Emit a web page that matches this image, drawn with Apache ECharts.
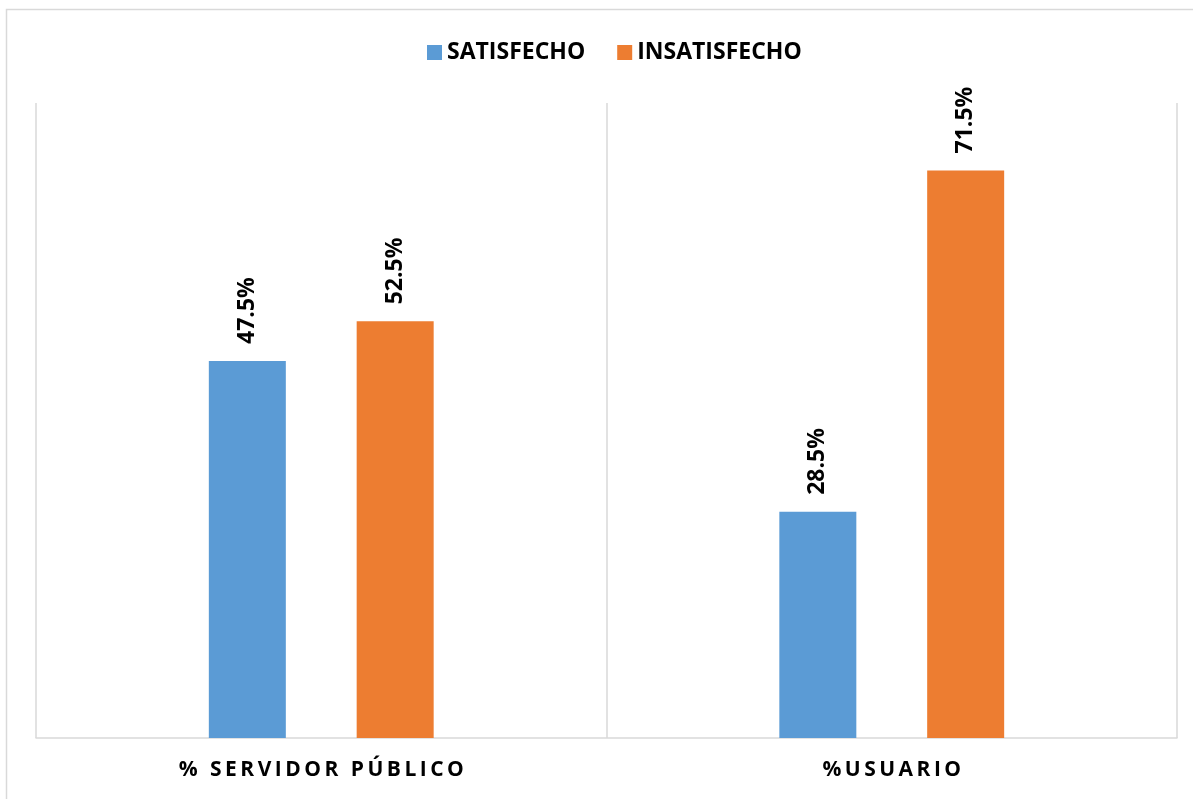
<!DOCTYPE html>
<html>
<head>
<meta charset="utf-8">
<script src="https://cdn.jsdelivr.net/npm/echarts@6/dist/echarts.min.js"></script>
<style>
  html, body { margin: 0; padding: 0; background: #fff; }
  #chart { width: 1193px; height: 799px; }
</style>
</head>
<body>
<div id="chart"></div>
<script>
// Satisfaction survey: share of satisfied vs. dissatisfied respondents
const categories = ['% SERVIDOR PÚBLICO', '%USUARIO'];
const seriesNames = ['SATISFECHO', 'INSATISFECHO'];
const satisfecho = [47.5, 28.5];
const insatisfecho = [52.5, 71.5];

const FONT = '"Open Sans", Lato, sans-serif';
const GRID_COLOR = '#d9d9d9';

// widen letter spacing of category labels with thin spaces between characters
const spaced = s => Array.from(s).join('\u2009');

const chart = echarts.init(document.getElementById('chart'), null, { renderer: 'canvas' });

const labelStyle = {
  show: true,
  position: 'top',
  rotate: 90,
  align: 'left',
  verticalAlign: 'middle',
  distance: 17,
  color: '#000',
  fontFamily: FONT,
  fontWeight: 'bold',
  fontSize: 23,
  formatter: p => p.value.toFixed(1) + '%'
};

chart.setOption({
  animation: false,
  backgroundColor: '#fff',
  graphic: [{
    type: 'rect',
    shape: { x: 6.5, y: 9.5, width: 1250, height: 850 },
    style: { fill: 'none', stroke: GRID_COLOR, lineWidth: 1.5 },
    silent: true,
    z: -1
  }],
  legend: {
    top: 36,
    left: 422,
    itemWidth: 15,
    itemHeight: 15,
    itemGap: 32,
    icon: 'rect',
    textStyle: { fontFamily: FONT, fontWeight: 'bold', fontSize: 23, color: '#000', padding: [0, 0, 0, 0] },
    data: seriesNames
  },
  grid: { left: 36, right: 16, top: 103, bottom: 61, containLabel: false },
  xAxis: {
    type: 'category',
    data: categories,
    boundaryGap: true,
    axisLine: { lineStyle: { color: GRID_COLOR, width: 1.5 } },
    axisTick: { show: false },
    splitLine: { show: true, interval: 0, lineStyle: { color: GRID_COLOR, width: 1.5 } },
    axisLabel: {
      margin: 22,
      color: '#000',
      fontFamily: FONT,
      fontWeight: 'bold',
      fontSize: 21,
      formatter: v => spaced(v)
    }
  },
  yAxis: {
    type: 'value',
    min: 0,
    max: 80,
    show: false,
    splitLine: { show: false }
  },
  series: [
    {
      name: seriesNames[0],
      type: 'bar',
      data: satisfecho,
      barWidth: 77,
      barGap: '92%',
      itemStyle: { color: '#5b9bd5' },
      label: labelStyle
    },
    {
      name: seriesNames[1],
      type: 'bar',
      data: insatisfecho,
      barWidth: 77,
      barGap: '92%',
      itemStyle: { color: '#ed7d31' },
      label: labelStyle
    }
  ]
});
</script>
</body>
</html>
